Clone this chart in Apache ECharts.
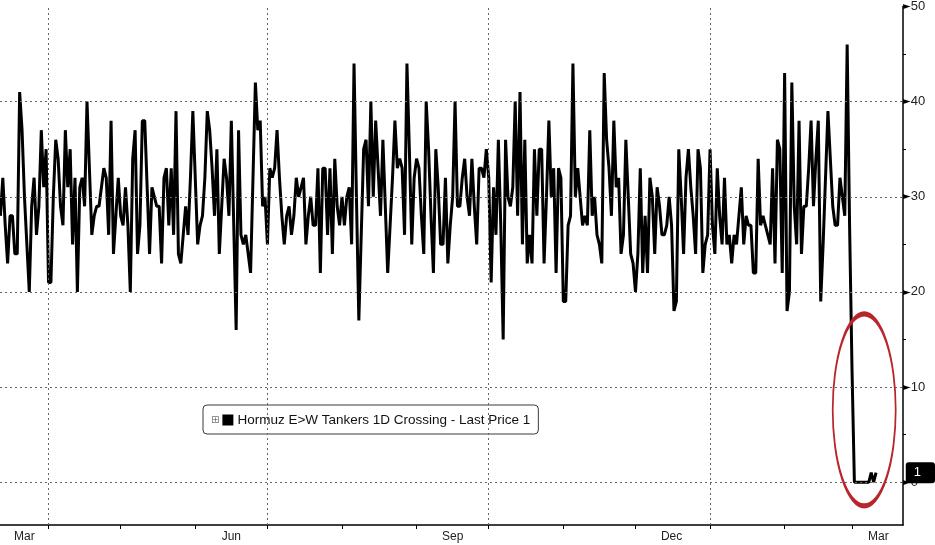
<!DOCTYPE html>
<html><head><meta charset="utf-8">
<script src="https://cdn.jsdelivr.net/npm/echarts@6/dist/echarts.min.js"></script>
<style>html,body{margin:0;padding:0;background:#fff}#c{width:935px;height:545px}</style>
</head><body><div id="c"></div><script>
const seriesName = 'Hormuz E>W Tankers 1D Crossing - Last Price 1';
const firstDay = [2025, 2, 12];           // 12 Mar 2025, one value per day
const crossings = [
  28,32,27,23,28,28,24,24,41,37, 30,25,20,29,32,26,29,37,31,35,
  21,21,30,36,34,29,27,37,31,35, 25,32,20,31,32,29,40,33,26,28,
  29,29,31,33,32,26,38,24,28,32, 28,27,31,27,20,34,37,24,27,38,
  38,31,24,31,30,29,29,23,32,33, 27,33,26,39,24,23,26,29,26,32,
  39,32,25,27,28,32,39,37,33,28, 35,24,29,34,32,28,38,27,16,37,
  26,25,26,24,22,32,42,37,38,29, 30,25,33,32,33,37,32,28,25,28,
  29,26,28,32,30,31,32,25,28,30, 27,27,33,22,33,33,26,33,24,34,
  29,27,30,27,30,31,25,44,30,17, 26,35,36,29,40,30,38,33,28,36,
  29,22,27,32,38,33,34,33,26,44, 35,25,32,34,33,28,24,40,35,28,
  22,35,31,25,25,32,23,27,30,40, 29,29,32,34,30,28,34,29,25,33,
  33,32,35,32,21,31,26,36,27,15, 36,30,29,31,40,28,41,25,36,23,
  26,23,35,28,35,35,23,30,38,30, 33,22,33,32,19,19,27,28,44,30,
  33,30,27,28,27,37,28,30,26,25, 23,43,36,33,28,38,31,32,24,26,
  36,30,24,23,20,24,33,22,28,22, 32,30,24,31,29,26,26,27,30,27,
  18,19,35,30,24,32,35,31,28,24, 35,33,22,25,26,35,27,24,33,28,
  25,32,25,26,23,26,25,28,31,25, 28,27,27,22,22,34,27,28,27,26,
  25,33,23,36,35,22,43,18,20,42, 29,25,38,24,29,29,33,38,29,34,
  38,19,25,32,39,34,29,27,27,32, 30,28,46,27,12,0,0,0,0,0,
  0,0,1,0,1
];
const monthLabels = ['Mar', 'Jun', 'Sep', 'Dec', 'Mar'];
const monthLabelDates = [[2025,2,22],[2025,5,16],[2025,8,16],[2025,11,16],[2026,2,12]];
const monthTickDates = [[2025,3,1],[2025,4,1],[2025,5,1],[2025,6,1],[2025,7,1],[2025,8,1],[2025,9,1],[2025,10,1],[2025,11,1],[2026,0,1],[2026,1,1],[2026,2,1]];
const quarterGridDates = [[2025,3,1],[2025,6,1],[2025,9,1],[2026,0,1]];
const yGridValues = [0, 10, 20, 30, 40];
const yLabelValues = [0, 10, 20, 30, 40, 50];
const yTickValues = [0, 5, 10, 15, 20, 25, 30, 35, 40, 45, 50];
const lastPrice = 1;
const highlightCenter = [[2026,2,6,2], 7.6];   // circled collapse

const t = a => new Date(a[0], a[1], a[2], a[3] || 0).getTime();
const xMin = new Date(2025, 2, 11, 20).getTime();
const xMax = new Date(2026, 2, 22, 5).getTime();
const lineData = crossings.map((v, i) => [new Date(firstDay[0], firstDay[1], firstDay[2] + i).getTime(), v]);
const FONT = 'Liberation Sans';
const labelTimes = monthLabelDates.map(t);

const chart = echarts.init(document.getElementById('c'));
chart.setOption({
  animation: false,
  backgroundColor: '#fff',
  grid: { left: 0, right: 32, top: 0, bottom: 20, containLabel: false },
  legend: {
    data: [seriesName], left: 203, top: 405, selectedMode: false,
    backgroundColor: '#fff', borderColor: '#3a3a3a', borderWidth: 1, borderRadius: 4,
    padding: [8, 8, 7, 3], icon: 'rect', itemWidth: 0, itemHeight: 0,
    formatter: n => '{p|⊞}{s| }{t|' + n + '}',
    textStyle: {
      rich: {
        p: { fontSize: 10, color: '#777', fontFamily: 'DejaVu Sans', padding: [0, 3, 0, 0] },
        s: { width: 11, height: 11, backgroundColor: '#000', fontSize: 4 },
        t: { fontSize: 13.5, color: '#111', fontFamily: FONT, padding: [0, 0, 0, 4] }
      }
    }
  },
  xAxis: {
    type: 'value', min: xMin, max: xMax,
    axisLine: { show: true, onZero: false, lineStyle: { color: '#000', width: 1.5 } },
    axisTick: { show: true, customValues: monthTickDates.map(t), length: 4, lineStyle: { color: '#000' } },
    axisLabel: {
      customValues: labelTimes, margin: 6, fontSize: 12, fontFamily: FONT, color: '#222',
      formatter: v => {
        let best = 0;
        labelTimes.forEach((lt, i) => { if (Math.abs(lt - v) < Math.abs(labelTimes[best] - v)) best = i; });
        return monthLabels[best];
      }
    },
    splitLine: { show: false }
  },
  yAxis: {
    type: 'value', position: 'right', min: -4.5, max: 50,
    axisLine: { show: true, onZero: false, lineStyle: { color: '#000', width: 1.5 } },
    axisTick: { show: true, customValues: yTickValues, length: 3, lineStyle: { color: '#000' } },
    axisLabel: {
      customValues: yLabelValues, margin: 0,
      formatter: v => '{a|►}{b|' + v + '}',
      rich: {
        a: { fontSize: 10, color: '#000', fontFamily: 'DejaVu Sans', padding: [0, 0, 0, 0] },
        b: { fontSize: 13, color: '#222', fontFamily: FONT }
      }
    },
    splitLine: { show: false },
    axisPointer: {
      show: true, value: lastPrice, status: 'show', type: 'line', triggerTooltip: false,
      lineStyle: { opacity: 0 },
      label: { show: true, formatter: p => String(Math.round(p.value)),
               backgroundColor: '#000', color: '#fff', fontSize: 13, fontFamily: FONT,
               padding: [4, 14, 4, 8], margin: 3 }
    }
  },
  series: [
    {
      name: 'grid', type: 'line', data: lineData, z: 1, silent: true, showSymbol: false,
      lineStyle: { opacity: 0 },
      markLine: {
        silent: true, symbol: 'none', label: { show: false },
        lineStyle: { type: [2, 3], color: '#666', width: 1 },
        data: yGridValues.map(v => ({ yAxis: v })).concat(quarterGridDates.map(d => ({ xAxis: t(d) })))
      }
    },
    {
      name: seriesName, type: 'line', data: lineData, z: 3, showSymbol: false,
      lineStyle: { color: '#000', width: 3 }, itemStyle: { color: '#000' },
      markPoint: {
        silent: true, label: { show: false },
        data: [{
          coord: [t(highlightCenter[0]), highlightCenter[1]],
          symbol: 'path://M0,96 A31.5,96 0 1,1 63,96 A31.5,96 0 1,1 0,96 Z',
          symbolSize: [63, 192], symbolKeepAspect: false,
          itemStyle: { color: 'rgba(0,0,0,0)', borderColor: '#b8262c', borderWidth: 3 }
        }]
      }
    }
  ]
});
</script></body></html>
